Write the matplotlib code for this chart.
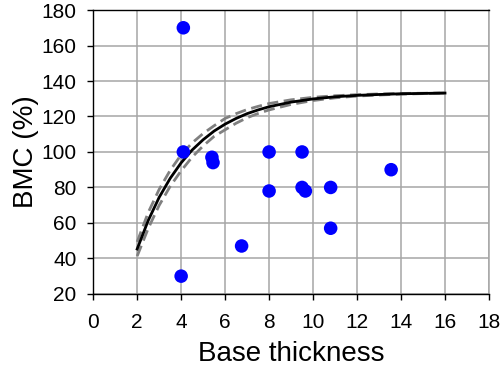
import matplotlib
matplotlib.use('Agg')
import matplotlib.pyplot as plt

plt.rcParams['font.family'] = ['Liberation Sans', 'DejaVu Sans']

# measured points
thick = [4.1, 4.1, 4.0, 5.4, 5.45, 6.75, 8.0, 8.0, 9.5, 9.5, 9.65, 10.8, 10.8, 13.55]
bmc = [170, 100, 30, 97, 94, 47, 100, 78, 100, 80, 78, 80, 57, 90]

# fitted curve and its band
curve_x = [2, 2.5, 3, 3.5, 4, 4.5, 5, 5.5, 6, 6.5, 7, 7.5, 8, 9, 10, 11, 12, 13, 14, 15, 16]
fit = [45.3, 61.3, 74.4, 85.1, 93.9, 101.1, 106.9, 111.8, 115.7, 118.9, 121.6, 123.7,
       125.5, 128.1, 129.9, 131.1, 131.9, 132.4, 132.8, 133.0, 133.2]
upper = [49.3, 65.8, 78.9, 89.6, 98.4, 105.1, 110.4, 114.8, 118.9, 121.6, 123.9, 125.7,
         127.3, 129.4, 130.8, 131.7, 132.3, 132.7, 133.0, 133.1, 133.2]
lower = [41.3, 56.8, 69.9, 80.6, 89.4, 97.1, 103.4, 108.8, 112.5, 116.2, 119.3, 121.7,
         123.7, 126.8, 129.0, 130.5, 131.5, 132.1, 132.6, 132.9, 133.2]

fig = plt.figure(figsize=(5.01, 3.72), dpi=100)
ax = fig.add_axes([0.186, 0.21, 0.79, 0.763])

ax.plot(curve_x, upper, color='#808080', lw=2.0, ls=(0, (4, 2)), zorder=2)
ax.plot(curve_x, lower, color='#808080', lw=2.0, ls=(0, (4, 2)), zorder=2)
ax.plot(curve_x, fit, color='black', lw=2.0, zorder=3)
ax.scatter(thick, bmc, s=95, c='#0000ff', edgecolors='none', zorder=4)

ax.set_xlim(0, 18)
ax.set_ylim(20, 180)
ax.set_xticks(range(0, 19, 2))
ax.set_yticks(range(20, 181, 20))
ax.grid(True, color='#a6a6a6', lw=1.1)
ax.set_axisbelow(True)

for side in ['top', 'left', 'bottom']:
    ax.spines[side].set_color('black')
    ax.spines[side].set_linewidth(1.0)
ax.spines['right'].set_color('#a6a6a6')
ax.spines['right'].set_linewidth(1.1)

ax.tick_params(direction='out', length=4, width=1.0, labelsize=15)
ax.tick_params(axis='x', pad=10)
ax.tick_params(axis='y', pad=8)
ax.set_xlabel('Base thickness', fontsize=20, labelpad=6)
ax.set_ylabel('BMC (%)', fontsize=20, labelpad=2)

fig.savefig('out.png', dpi=100)
